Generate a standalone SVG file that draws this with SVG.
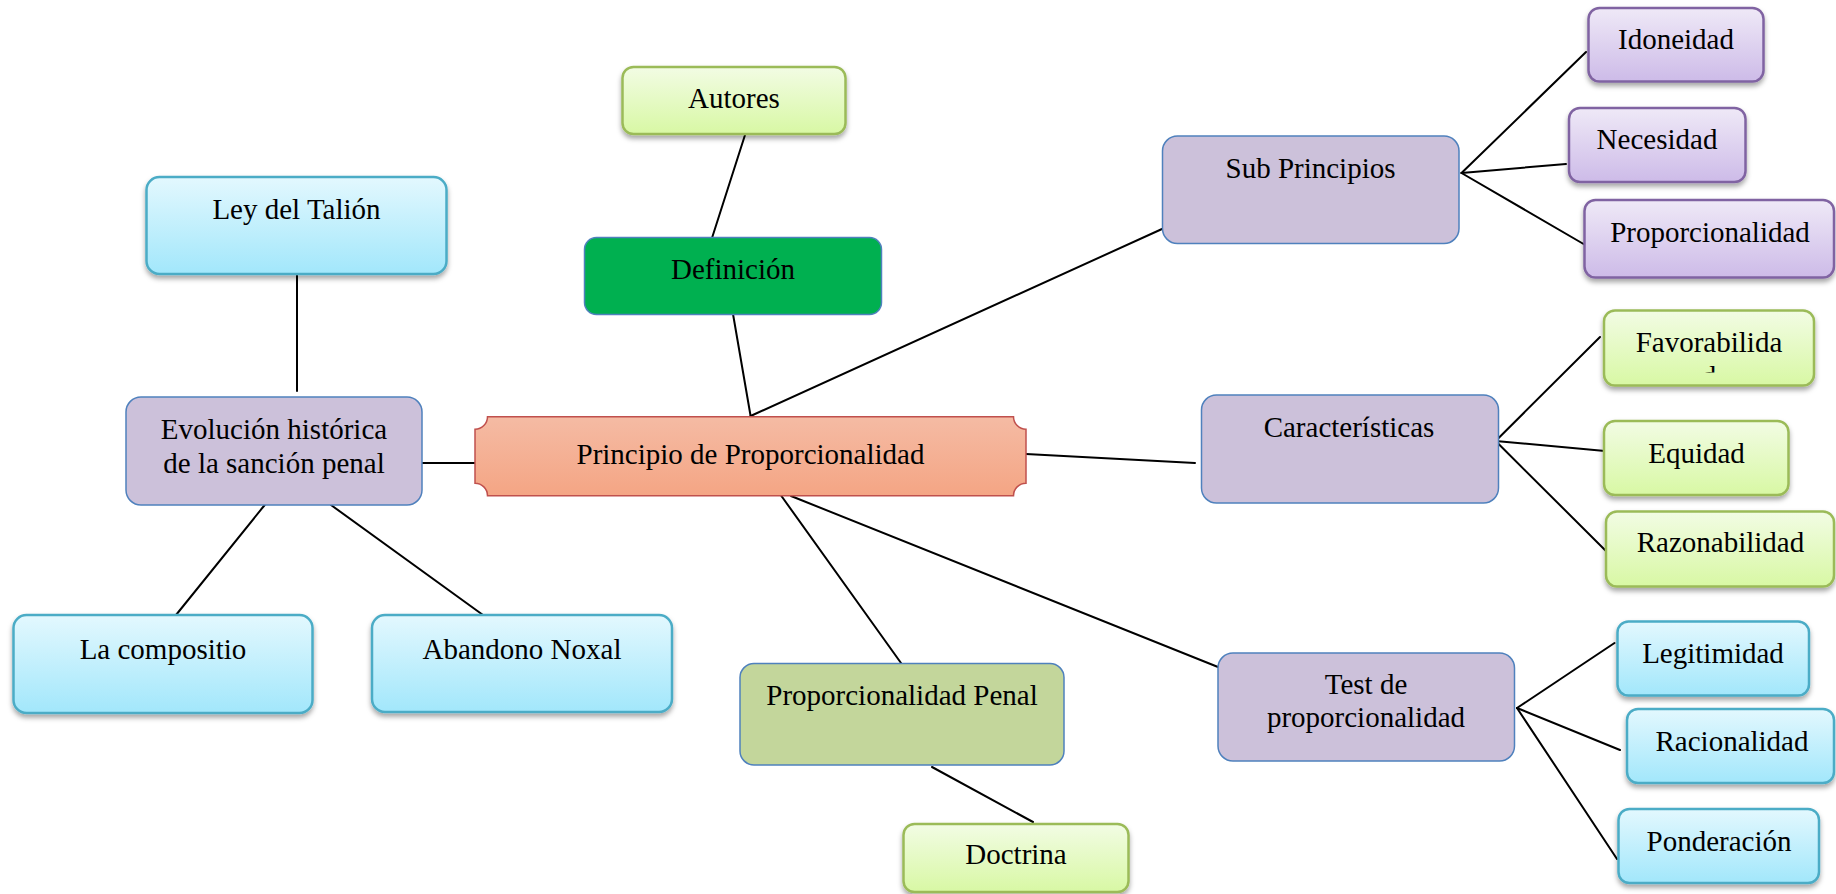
<svg xmlns="http://www.w3.org/2000/svg" width="1836" height="894" viewBox="0 0 1836 894">
<defs>
<linearGradient id="gBlue" x1="0" y1="0" x2="0" y2="1"><stop offset="0" stop-color="#E3F8FE"/><stop offset="1" stop-color="#A2E7FB"/></linearGradient>
<linearGradient id="gGreen" x1="0" y1="0" x2="0" y2="1"><stop offset="0" stop-color="#F2FCE4"/><stop offset="1" stop-color="#D8F8A4"/></linearGradient>
<linearGradient id="gPurple" x1="0" y1="0" x2="0" y2="1"><stop offset="0" stop-color="#EFE9F7"/><stop offset="1" stop-color="#CDBBE8"/></linearGradient>
<linearGradient id="gSalmon" x1="0" y1="0" x2="0" y2="1"><stop offset="0" stop-color="#F5BBA4"/><stop offset="1" stop-color="#F4A584"/></linearGradient>
<filter id="sh" x="-10%" y="-20%" width="120%" height="160%"><feDropShadow dx="0" dy="3.5" stdDeviation="2.5" flood-color="#000" flood-opacity="0.35"/></filter>
<clipPath id="favClip"><rect x="1604" y="300" width="212" height="72.5"/></clipPath>
</defs>
<style>
text{font-family:"Liberation Serif","Times New Roman",serif;font-size:29px;fill:#000;text-anchor:middle}
.conn line{stroke:#000;stroke-width:2;stroke-linecap:round}
.blue{fill:url(#gBlue);stroke:#4BACC6;stroke-width:2.5;filter:url(#sh)}
.green{fill:url(#gGreen);stroke:#9BBB59;stroke-width:2.5;filter:url(#sh)}
.purple{fill:url(#gPurple);stroke:#8064A2;stroke-width:2.5;filter:url(#sh)}
.flat{fill:#CCC1DA;stroke:#4F81BD;stroke-width:1.5}
.def{fill:#00B050;stroke:#4F81BD;stroke-width:1.5}
.olive{fill:#C3D69B;stroke:#4F81BD;stroke-width:1.5}
.main{fill:url(#gSalmon);stroke:#C0504D;stroke-width:1.5}
</style>
<rect width="1836" height="894" fill="#fff"/>
<g id="connectors" class="conn">
<line x1="745" y1="135" x2="712" y2="238"/>
<line x1="733" y1="314" x2="750.6" y2="416"/>
<line x1="750.6" y1="416" x2="1162" y2="229"/>
<line x1="1026" y1="454" x2="1195" y2="463"/>
<line x1="780" y1="494" x2="901" y2="663"/>
<line x1="791" y1="496" x2="1218" y2="667"/>
<line x1="932" y1="767" x2="1033" y2="822"/>
<line x1="297" y1="274" x2="297" y2="391"/>
<line x1="422" y1="463" x2="475" y2="463"/>
<line x1="264.7" y1="505" x2="176" y2="615"/>
<line x1="331" y1="505" x2="483" y2="615"/>
<line x1="1461.5" y1="173" x2="1586" y2="52"/>
<line x1="1461.5" y1="173" x2="1566" y2="164"/>
<line x1="1461.5" y1="173" x2="1587" y2="246"/>
<line x1="1495.6" y1="441" x2="1600" y2="337"/>
<line x1="1495.6" y1="441" x2="1605" y2="451"/>
<line x1="1495.6" y1="441" x2="1613" y2="558"/>
<line x1="1517" y1="708" x2="1614.5" y2="643"/>
<line x1="1517" y1="708" x2="1620" y2="750"/>
<line x1="1517" y1="708" x2="1617" y2="859"/>
</g>
<g id="autores"><rect class="green" x="622.5" y="67" width="223" height="67" rx="11"/><text x="734" y="107.5">Autores</text></g>
<g id="definicion"><rect class="def" x="584.5" y="237.5" width="297" height="77" rx="12"/><text x="733" y="278.5">Definición</text></g>
<g id="ley-talion"><rect class="blue" x="146.5" y="177" width="300" height="97" rx="13"/><text x="296.5" y="219">Ley del Talión</text></g>
<g id="evolucion"><rect class="flat" x="126" y="397" width="296" height="108" rx="15"/><text x="274" y="438.5">Evolución histórica</text><text x="274" y="472.5">de la sanción penal</text></g>
<g id="compositio"><rect class="blue" x="13.5" y="615" width="299" height="98" rx="13"/><text x="163" y="658.5">La compositio</text></g>
<g id="abandono"><rect class="blue" x="372" y="615" width="300" height="97" rx="13"/><text x="522" y="658.5">Abandono Noxal</text></g>
<g id="principio"><path class="main" d="M487.5 416.7 H1013.5 A12.5 12.5 0 0 0 1026 429.2 V483.2 A12.5 12.5 0 0 0 1013.5 495.7 H487.5 A12.5 12.5 0 0 0 475 483.2 V429.2 A12.5 12.5 0 0 0 487.5 416.7 Z"/><text x="750.5" y="463.5">Principio de Proporcionalidad</text></g>
<g id="prop-penal"><rect class="olive" x="740" y="663.5" width="324" height="101.5" rx="14"/><text x="902" y="705">Proporcionalidad Penal</text></g>
<g id="doctrina"><rect class="green" x="903.5" y="824" width="225" height="68" rx="11"/><text x="1016" y="864">Doctrina</text></g>
<g id="sub-principios"><rect class="flat" x="1162.5" y="136" width="296.5" height="107.5" rx="15"/><text x="1310.5" y="177.5">Sub Principios</text></g>
<g id="idoneidad"><rect class="purple" x="1588.5" y="8" width="175" height="73.5" rx="11"/><text x="1676" y="49">Idoneidad</text></g>
<g id="necesidad"><rect class="purple" x="1569" y="108" width="176.5" height="74" rx="11"/><text x="1657" y="149">Necesidad</text></g>
<g id="proporcionalidad"><rect class="purple" x="1584.5" y="200" width="249.5" height="77.5" rx="11"/><text x="1710" y="241.5">Proporcionalidad</text></g>
<g id="caracteristicas"><rect class="flat" x="1201.5" y="395" width="297" height="108" rx="15"/><text x="1349" y="436.5">Características</text></g>
<g id="favorabilidad"><rect class="green" x="1604" y="310.5" width="210" height="75" rx="11"/><text x="1709" y="351.5">Favorabilida</text><text x="1709" y="386" clip-path="url(#favClip)">d</text></g>
<g id="equidad"><rect class="green" x="1604" y="421" width="184.5" height="74" rx="11"/><text x="1696.5" y="462.5">Equidad</text></g>
<g id="razonabilidad"><rect class="green" x="1606" y="511.5" width="228" height="75" rx="11"/><text x="1720.5" y="551.5">Razonabilidad</text></g>
<g id="test"><rect class="flat" x="1218" y="653" width="296.5" height="108" rx="15"/><text x="1366" y="694">Test de</text><text x="1366" y="727">proporcionalidad</text></g>
<g id="legitimidad"><rect class="blue" x="1617.5" y="621.5" width="191.5" height="74" rx="11"/><text x="1713" y="662.5">Legitimidad</text></g>
<g id="racionalidad"><rect class="blue" x="1627" y="709" width="207" height="74" rx="11"/><text x="1732" y="750.5">Racionalidad</text></g>
<g id="ponderacion"><rect class="blue" x="1618.5" y="809" width="200.5" height="74" rx="11"/><text x="1719" y="850.5">Ponderación</text></g>
</svg>
